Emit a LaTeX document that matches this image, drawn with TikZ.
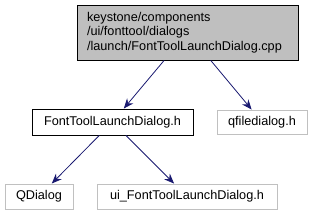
\documentclass[tikz,border=0pt]{standalone}
\usepackage{fontspec}
\setmainfont{Liberation Sans}
\usepackage{xcolor}
\usepackage{tikz}
\usetikzlibrary{positioning, arrows.meta}
\definecolor{edgecolor}{HTML}{191970}
\definecolor{rootfill}{HTML}{BFBFBF}
\definecolor{sysdraw}{HTML}{C0C0C0}
\tikzset{
    filenode/.style = {draw=black, fill=white, line width=0.9pt, inner sep=0pt,
                       font=\fontsize{12.7}{14.5}\selectfont, align=center},
    rootnode/.style = {filenode, fill=rootfill, align=left, text width=201pt,
                       inner xsep=10pt},
    sysnode/.style  = {filenode, draw=sysdraw},
    edge/.style     = {-{Stealth[length=10pt, width=8pt]}, edgecolor, line width=0.8pt},
}
\begin{document}
\begin{tikzpicture}[x=1pt, y=1pt]
\useasboundingbox (0,0) rectangle (314,-216);

\node[rootnode, minimum height=55pt] (root) at (187.5,-32.5)
    {keystone/components\\/ui/fonttool/dialogs\\/launch/FontToolLaunchDialog.cpp};

\node[filenode, minimum width=161pt, minimum height=26pt] (dlgh) at (112.5,-122)
    {FontToolLaunchDialog.h};
\node[sysnode, minimum width=90pt, minimum height=24pt] (qfile) at (262,-122)
    {qfiledialog.h};

\node[sysnode, minimum width=68pt, minimum height=25pt] (qdlg) at (39,-196.5)
    {QDialog};
\node[sysnode, minimum width=180pt, minimum height=25pt] (uih) at (187,-196.5)
    {ui\_FontToolLaunchDialog.h};

\draw[edge] (root) -- (dlgh);
\draw[edge] (root) -- (qfile);
\draw[edge] (dlgh) -- (qdlg);
\draw[edge] (dlgh) -- (uih);

\end{tikzpicture}
\end{document}
